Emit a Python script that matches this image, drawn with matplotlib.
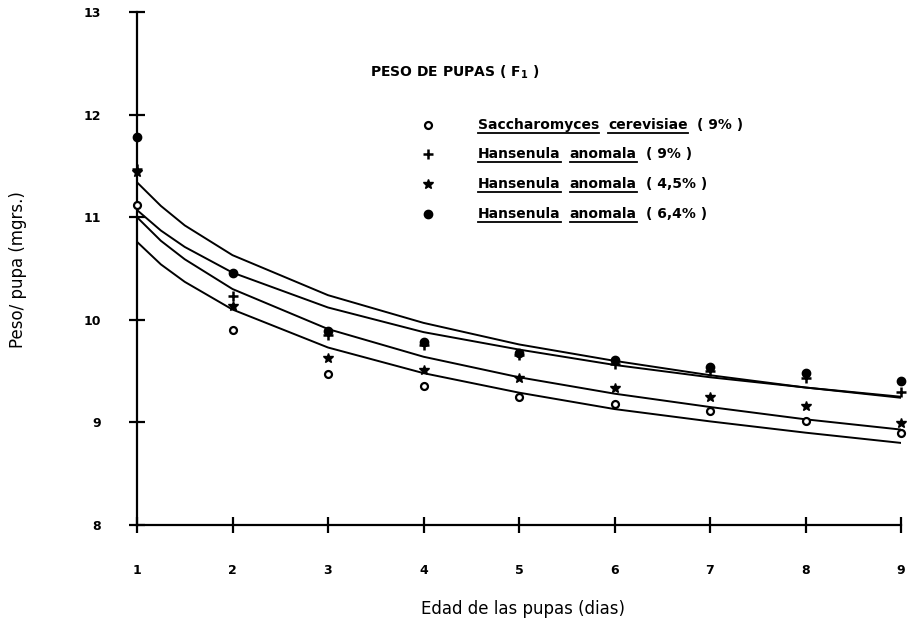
import matplotlib
matplotlib.use("Agg")
import matplotlib.pyplot as plt
from matplotlib.lines import Line2D

# --- datos ---
dias = [1, 2, 3, 4, 5, 6, 7, 8, 9]
sacch_9 = [11.12, 9.90, 9.47, 9.35, 9.25, 9.18, 9.11, 9.01, 8.90]
hans_9 = [11.47, 10.23, 9.85, 9.75, 9.66, 9.57, 9.50, 9.43, 9.30]
hans_45 = [11.44, 10.13, 9.63, 9.51, 9.43, 9.34, 9.25, 9.16, 8.99]
hans_64 = [11.78, 10.46, 9.89, 9.78, 9.68, 9.61, 9.54, 9.48, 9.40]

# curvas ajustadas
x_curva = [1, 1.25, 1.5, 2, 3, 4, 5, 6, 7, 8, 9]
curva_sacch_9 = [10.76, 10.54, 10.37, 10.10, 9.73, 9.48, 9.29, 9.13, 9.01, 8.90, 8.80]
curva_hans_45 = [11.00, 10.77, 10.59, 10.30, 9.91, 9.64, 9.44, 9.28, 9.15, 9.03, 8.93]
curva_hans_9 = [11.07, 10.87, 10.71, 10.46, 10.12, 9.88, 9.71, 9.56, 9.44, 9.34, 9.25]
curva_hans_64 = [11.34, 11.11, 10.92, 10.63, 10.24, 9.97, 9.76, 9.60, 9.46, 9.34, 9.24]

x_ticks = [1, 2, 3, 4, 5, 6, 7, 8, 9]
y_ticks = [8, 9, 10, 11, 12, 13]

leyenda = [
    ("o", [("Saccharomyces", True), ("cerevisiae", True), ("( 9% )", False)]),
    ("+", [("Hansenula", True), ("anomala", True), ("( 9% )", False)]),
    ("*", [("Hansenula", True), ("anomala", True), ("( 4,5% )", False)]),
    ("●", [("Hansenula", True), ("anomala", True), ("( 6,4% )", False)]),
]

plt.rcParams["font.family"] = ["DejaVu Sans"]
plt.rcParams["mathtext.default"] = "regular"

W, H = 907, 628
fig = plt.figure(figsize=(W / 100, H / 100), dpi=100)
ax = fig.add_axes([137 / W, 1 - 525 / H, 764 / W, 513 / H])

# --- curvas ---
for c in [curva_sacch_9, curva_hans_45, curva_hans_9, curva_hans_64]:
    ax.plot(x_curva, c, color="black", lw=1.4)

# --- puntos ---
estilo = dict(color="black", ls="none", clip_on=False, zorder=3)
ax.plot(dias, sacch_9, marker="o", ms=5, mfc="white", mew=1.6, **estilo)
ax.plot(dias, hans_9, marker="+", ms=7, mew=1.8, **estilo)
ax.plot(dias, hans_45, marker="*", ms=7, **estilo)
ax.plot(dias, hans_64, marker="o", ms=6, **estilo)

ax.set_xlim(1, 9)
ax.set_ylim(8, 13)
ax.set_xticks(x_ticks)
ax.set_yticks(y_ticks)
for s in ["top", "right"]:
    ax.spines[s].set_visible(False)
for s in ["left", "bottom"]:
    ax.spines[s].set_linewidth(1.6)
ax.tick_params(direction="inout", length=12, width=1.6, labelsize=9)
ax.tick_params(axis="y", pad=20)
ax.tick_params(axis="x", pad=22)
for lab in ax.get_xticklabels() + ax.get_yticklabels():
    lab.set_fontweight("bold")

fig.text(18 / W, 1 - 270 / H, "Peso/ pupa (mgrs.)", rotation=90,
         ha="center", va="center", fontsize=12, fontweight="medium")
fig.text(523 / W, 1 - 609 / H, "Edad de las pupas (dias)",
         ha="center", va="center", fontsize=12, fontweight="medium")

# --- titulo y leyenda ---
fig.text(370 / W, 1 - 72 / H, "PESO DE PUPAS ( F$_1$ )", ha="left",
         va="center", fontsize=10, fontweight="bold")

renderer = fig.canvas.get_renderer()
filas_y = [125, 154, 184, 214]
for (mk, palabras), yp in zip(leyenda, filas_y):
    if mk == "o":
        ax.plot([428 / W], [1 - yp / H], marker="o", ms=5, mfc="white", mew=1.6,
                color="black", transform=fig.transFigure, clip_on=False)
    elif mk == "+":
        ax.plot([428 / W], [1 - yp / H], marker="+", ms=7, mew=1.8,
                color="black", transform=fig.transFigure, clip_on=False)
    elif mk == "*":
        ax.plot([428 / W], [1 - yp / H], marker="*", ms=7,
                color="black", transform=fig.transFigure, clip_on=False)
    else:
        ax.plot([428 / W], [1 - yp / H], marker="o", ms=6,
                color="black", transform=fig.transFigure, clip_on=False)
    xp = 478
    for w, sub in palabras:
        t = fig.text(xp / W, 1 - yp / H, w, ha="left", va="center",
                     fontsize=10, fontweight="bold")
        bb = t.get_window_extent(renderer)
        if sub:
            fig.add_artist(Line2D([bb.x0 / W, bb.x1 / W],
                                  [(bb.y0 - 1) / H, (bb.y0 - 1) / H],
                                  color="black", lw=1.3, transform=fig.transFigure))
        xp = bb.x1 + 9

fig.savefig("out.png", dpi=100)
